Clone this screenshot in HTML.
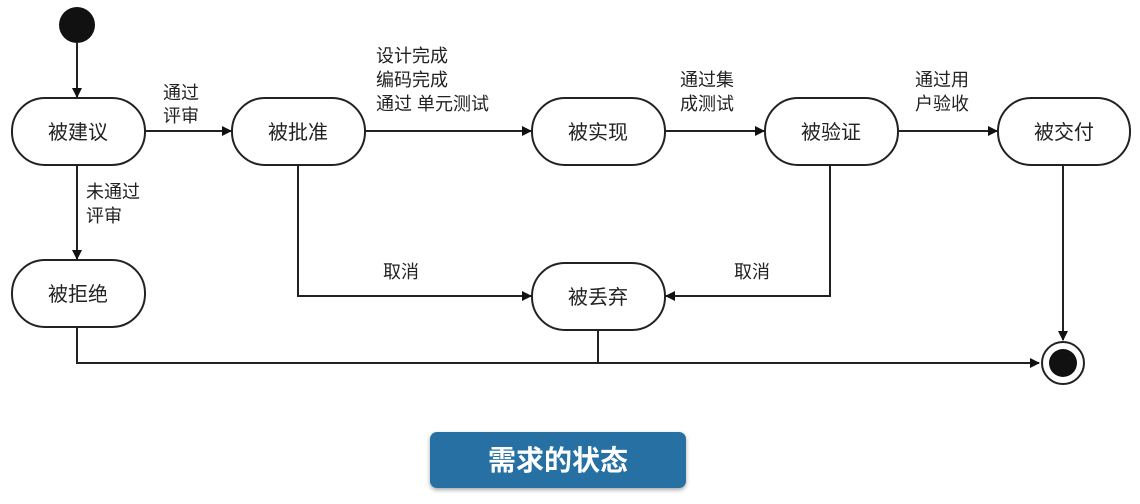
<!DOCTYPE html>
<html><head><meta charset="utf-8"><style>
body{margin:0;background:#fff;width:1140px;height:499px;overflow:hidden}
svg text{font-family:"Liberation Sans","Noto Sans CJK SC",sans-serif;fill:#222}
</style></head><body>
<svg width="1140" height="499" xmlns="http://www.w3.org/2000/svg">
<defs><marker id="a" markerWidth="10" markerHeight="10" refX="9" refY="5" orient="auto" markerUnits="userSpaceOnUse"><path d="M0,0 L10,5 L0,10 z" fill="#111"/></marker></defs>
<g stroke="#222" stroke-width="2" fill="none">
<line x1="77" y1="43" x2="77" y2="97" marker-end="url(#a)"/>
<line x1="145" y1="131" x2="231" y2="131" marker-end="url(#a)"/>
<line x1="365" y1="131" x2="531" y2="131" marker-end="url(#a)"/>
<line x1="665" y1="131" x2="764" y2="131" marker-end="url(#a)"/>
<line x1="898" y1="131" x2="997" y2="131" marker-end="url(#a)"/>
<line x1="77" y1="165" x2="77" y2="259" marker-end="url(#a)"/>
<polyline points="298,165 298,296 531,296" marker-end="url(#a)"/>
<polyline points="830,165 830,296 666,296" marker-end="url(#a)"/>
<line x1="1063" y1="165" x2="1063" y2="340" marker-end="url(#a)"/>
<polyline points="77,327 77,363 1039,363" marker-end="url(#a)"/>
<line x1="598" y1="330" x2="598" y2="363"/>
</g>
<circle cx="77" cy="25" r="18" fill="#111"/>
<circle cx="1063" cy="363" r="21" fill="#fff" stroke="#222" stroke-width="2"/>
<circle cx="1063" cy="363" r="14" fill="#111"/>
<g stroke="#222" stroke-width="2" fill="#fff">
<rect x="12" y="98" width="133" height="67" rx="33"/>
<rect x="232" y="98" width="133" height="67" rx="33"/>
<rect x="532" y="98" width="133" height="67" rx="33"/>
<rect x="765" y="98" width="133" height="67" rx="33"/>
<rect x="998" y="98" width="132" height="67" rx="33"/>
<rect x="12" y="260" width="133" height="67" rx="33"/>
<rect x="532" y="263" width="133" height="67" rx="33"/>
</g>
<g font-size="20" text-anchor="middle">
<text x="78" y="139">被建议</text>
<text x="298" y="139">被批准</text>
<text x="598" y="139">被实现</text>
<text x="831" y="139">被验证</text>
<text x="1064" y="139">被交付</text>
<text x="78" y="301">被拒绝</text>
<text x="598" y="304">被丢弃</text>
</g>
<g font-size="18">
<text x="163" y="99">通过</text><text x="163" y="122">评审</text>
<text x="376" y="62">设计完成</text><text x="376" y="86">编码完成</text><text x="376" y="110">通过 单元测试</text>
<text x="680" y="86">通过集</text><text x="680" y="110">成测试</text>
<text x="915" y="86">通过用</text><text x="915" y="110">户验收</text>
<text x="86" y="198">未通过</text><text x="86" y="222">评审</text>
<text x="383" y="278">取消</text>
<text x="734" y="278">取消</text>
</g>
<rect x="430" y="432" width="256" height="56" rx="7" fill="#2670a3" style="filter:drop-shadow(0 2px 2px rgba(0,0,0,.35))"/>
<text x="558" y="470" font-size="28" font-weight="bold" text-anchor="middle" style="fill:#fff">需求的状态</text>
</svg>
</body></html>
